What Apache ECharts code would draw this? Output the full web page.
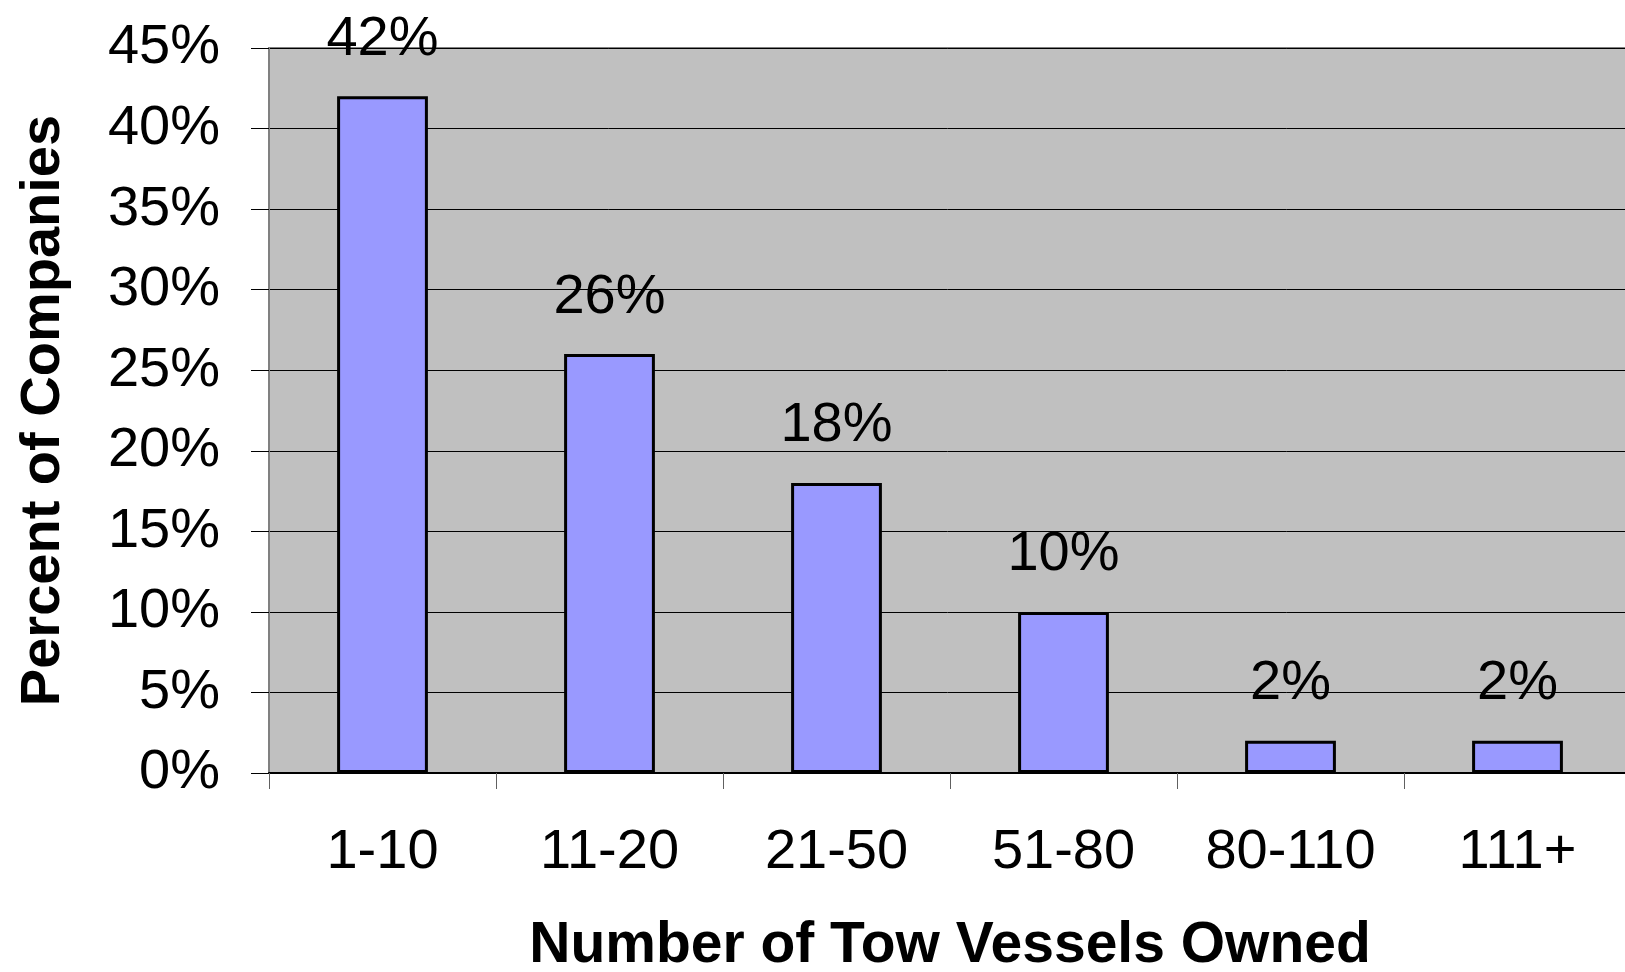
<!DOCTYPE html>
<html>
<head>
<meta charset="utf-8">
<script src="https://cdn.jsdelivr.net/npm/echarts@6/dist/echarts.min.js"></script>
<style>
html,body{margin:0;padding:0;background:#fff;}
#chart{width:1625px;height:972px;}
</style>
</head>
<body>
<div id="chart"></div>
<script>
const categories = ['1-10', '11-20', '21-50', '51-80', '80-110', '111+'];
const percentValues = [42, 26, 18, 10, 2, 2];
const yTickLabels = ['0%', '5%', '10%', '15%', '20%', '25%', '30%', '35%', '40%', '45%'];
const xAxisTitle = 'Number of Tow Vessels Owned';
const yAxisTitle = 'Percent of Companies';

const FONT = '"Liberation Sans", Arial, sans-serif';
const chart = echarts.init(document.getElementById('chart'));
chart.setOption({
  animation: false,
  backgroundColor: '#ffffff',
  grid: {
    left: 269, top: 48, right: -6, bottom: 199,
    outerBoundsMode: 'none',
    containLabel: false,
    show: true, backgroundColor: '#C0C0C0', borderColor: '#808080', borderWidth: 2
  },
  xAxis: {
    type: 'category',
    data: categories,
    name: xAxisTitle,
    nameLocation: 'middle',
    nameGap: 145,
    nameTextStyle: { fontFamily: FONT, fontSize: 57, fontWeight: 'bold', color: '#000' },
    axisLine: { lineStyle: { color: '#000', width: 2 } },
    axisTick: { show: true, length: 16, inside: false, lineStyle: { color: '#606060', width: 1 } },
    axisLabel: { fontFamily: FONT, fontSize: 56, color: '#000', margin: 52 },
    splitLine: { show: false }
  },
  yAxis: {
    type: 'value',
    min: 0, max: 45, interval: 5,
    name: yAxisTitle,
    nameLocation: 'middle',
    nameRotate: 90,
    nameGap: 197,
    nameTextStyle: { fontFamily: FONT, fontSize: 56, fontWeight: 'bold', color: '#000' },
    axisLine: { show: true, lineStyle: { color: '#808080', width: 2 } },
    axisTick: { show: true, length: 18, lineStyle: { color: '#000', width: 1 } },
    axisLabel: {
      fontFamily: FONT, fontSize: 56, color: '#000', margin: 49,
      formatter: function (v) { return yTickLabels[Math.round(v / 5)]; }
    },
    splitLine: { show: true, lineStyle: { color: '#000', width: 1 } }
  },
  series: [{
    type: 'bar',
    data: percentValues,
    barWidth: '40%',
    itemStyle: { color: '#9999FF', borderColor: '#000', borderWidth: 3 },
    label: {
      show: true, position: 'top', distance: 29,
      fontFamily: FONT, fontSize: 56, color: '#000',
      formatter: function (p) { return p.value + '%'; }
    }
  }]
});
</script>
</body>
</html>
